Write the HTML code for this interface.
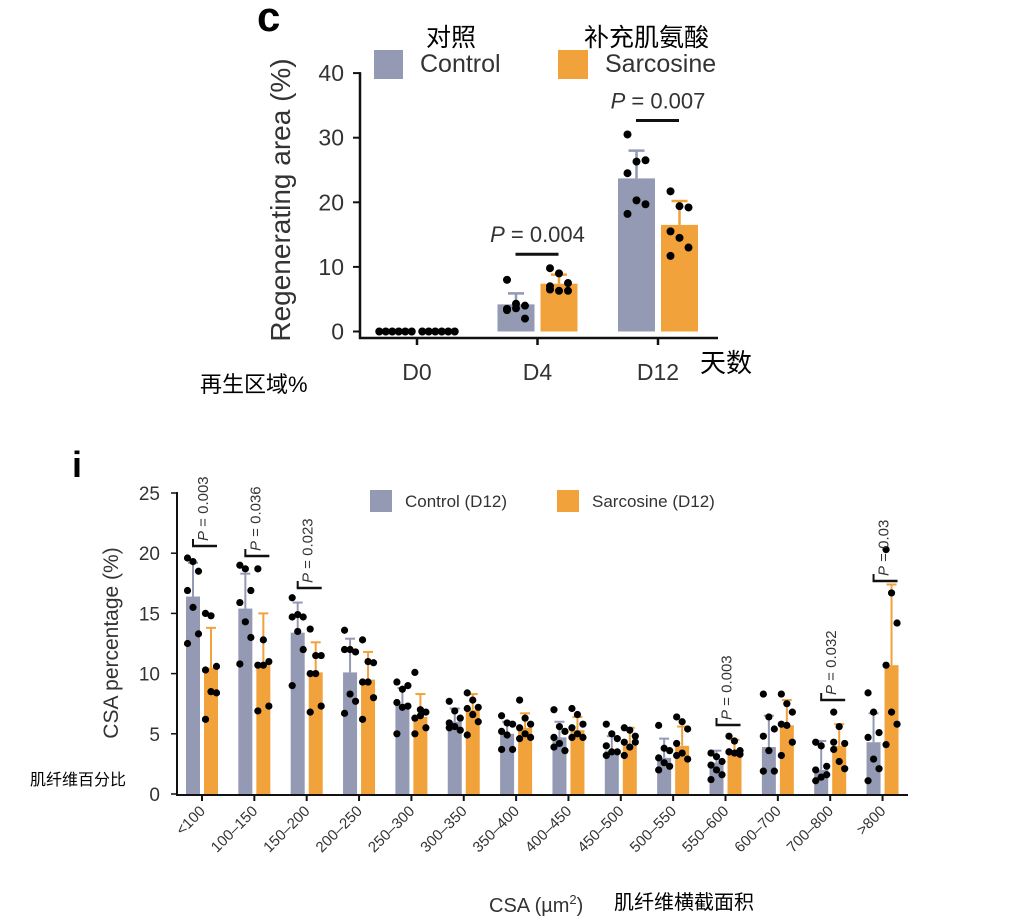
<!DOCTYPE html>
<html><head><meta charset="utf-8">
<style>
body{margin:0;background:#fff;}
svg{display:block;font-family:"Liberation Sans","Noto Sans CJK SC",sans-serif;}
</style></head>
<body>
<svg id="svg" width="1017" height="922" viewBox="0 0 1017 922">
<text x="257" y="31" font-size="42" font-weight="bold">c</text>
<text x="72" y="477" font-size="36" font-weight="bold">i</text>
<g id="top"></g>
<g id="bot"></g>
</svg>
<script>
const NS='http://www.w3.org/2000/svg';
const GRAY='#9499b4', ORANGE='#f2a23a';
function mk(tag,attrs,parent,txt){const e=document.createElementNS(NS,tag);for(const k in attrs)e.setAttribute(k,attrs[k]);if(txt!==undefined)e.textContent=txt;parent.appendChild(e);return e;}

// ---------- Top chart data ----------
const topCats=['D0','D4','D12'];
const topCtrlMean=[0,4.2,23.7];
const topCtrlErr=[0,1.7,4.3];
const topSarcMean=[0,7.4,16.5];
const topSarcErr=[0,1.4,3.7];
const topCtrlDots=[[0,0,0,0,0,0],[8,4.3,4.0,3.5,3.6,2.0,3.3],[30.5,26.3,26.5,24.5,20.3,19.7,18.2]];
const topSarcDots=[[0,0,0,0,0,0],[9.8,9.0,7.5,6.5,6.3,6.3,7.0],[21.7,19.4,19.2,15.5,14.5,13.0,11.7]];
const topTicks=[0,10,20,30,40];
const topP=[null,'P = 0.004','P = 0.007'];

// ---------- Bottom chart data ----------
const botCats=['<100','100–150','150–200','200–250','250–300','300–350','350–400','400–450','450–500','500–550','550–600','600–700','700–800','>800'];
const botCtrlMean=[16.4,15.4,13.4,10.1,7.5,6.0,5.0,4.7,3.6,3.0,2.6,3.9,2.0,4.3];
const botCtrlErr=[2.8,2.9,2.5,2.8,1.3,1.1,1.0,1.3,1.2,1.6,1.0,2.6,2.4,2.4];
const botSarcMean=[10.5,10.8,10.1,9.5,6.4,7.0,5.5,5.3,4.0,4.0,3.6,5.7,4.0,10.7];
const botSarcErr=[3.3,4.2,2.5,2.3,1.9,1.3,1.2,1.1,1.5,1.6,0.9,2.1,1.8,6.7];
const botCtrlDots=[[19.6,19.3,18.5,16.9,15.5,13.3,12.5],[19.0,18.7,16.9,15.9,14.3,13.0,10.8],[16.3,14.9,14.7,14.7,13.5,12.0,9.0],[13.6,12.0,11.8,12.0,8.3,7.7,6.7],[9.3,8.7,9.0,7.6,7.2,7.3,5.0],[7.7,6.9,6.3,5.9,5.6,5.3,5.5],[6.5,5.9,5.8,5.2,4.9,3.7,3.7],[7.0,5.6,5.2,4.7,4.2,3.6,3.9],[5.8,5.0,4.6,4.0,3.5,3.5,3.2],[5.7,3.8,3.6,3.0,2.6,2.3,2.0],[3.4,3.1,2.7,2.4,2.0,1.6,1.2],[8.3,6.4,5.4,4.8,3.6,1.9,1.9],[4.3,4.0,2.3,2.0,1.4,1.6,1.1],[8.4,6.8,5.1,4.7,2.9,2.1,1.1]];
const botSarcDots=[[15.0,14.8,10.6,10.3,8.5,8.4,6.2],[18.7,12.8,11.0,10.7,10.7,7.3,6.9],[13.7,11.5,11.5,10.0,10.0,7.3,6.8],[12.8,11.0,10.9,9.3,9.3,8.0,6.2],[10.1,7.0,6.8,6.3,6.5,5.5,5.0],[8.4,7.8,7.2,7.1,6.6,6.0,4.9],[7.8,6.3,5.8,5.5,5.0,4.7,4.6],[7.1,6.6,5.8,5.5,5.0,4.7,4.7],[5.5,5.3,4.8,4.3,3.9,4.3,3.2],[6.4,6.0,5.4,4.2,3.4,2.9,3.2],[4.8,4.4,3.6,3.5,3.4,3.3,3.5],[8.3,7.5,6.8,5.8,5.7,4.3,3.2],[6.8,5.6,4.2,3.7,2.7,2.1,4.3],[20.3,16.7,14.2,10.7,6.8,5.8,4.1]];
const botTicks=[0,5,10,15,20,25];
const botP=['P = 0.003','P = 0.036','P = 0.023',null,null,null,null,null,null,null,'P = 0.003',null,'P = 0.032','P = 0.03'];
const botPBar=[546,556,588,0,0,0,0,0,0,0,725,0,700,581];

// ---------- draw top ----------
(function(){
  const g=document.getElementById('top');
  const y=v=>331.5-v*6.46;
  const xc=i=>417+i*120.5;
  const bw=37, gap=6;
  const ya=mk('line',{x1:360,y1:y(40)-1,x2:360,y2:339,stroke:'#111','stroke-width':2.5},g);
  
  const xa=mk('line',{x1:359,y1:338,x2:718,y2:338,stroke:'#111','stroke-width':2.5},g);
  
  topTicks.forEach(t=>{
    const l=mk('line',{x1:353,y1:y(t),x2:360,y2:y(t),stroke:'#111','stroke-width':2},g);
    
    const tx=mk('text',{x:344,y:y(t)+8,'font-size':23,'text-anchor':'end',fill:'#333'},g,String(t));
    
  });
  topCats.forEach((c,i)=>{
    const cx=xc(i);
    const tk=mk('line',{x1:cx,y1:338,x2:cx,y2:345,stroke:'#111','stroke-width':2.5},g);
    
    const lb=mk('text',{x:cx,y:380,'font-size':23,'text-anchor':'middle',fill:'#333'},g,c);
    
    [[topCtrlMean,topCtrlErr,topCtrlDots,GRAY,cx-gap/2-bw],[topSarcMean,topSarcErr,topSarcDots,ORANGE,cx+gap/2]].forEach(([m,e,d,col,x0],k)=>{
      if(m[i]>0){
        const b=mk('rect',{x:x0,y:y(m[i]),width:bw,height:y(0)-y(m[i]),fill:col},g);
        
        
        const mx=x0+bw/2;
        mk('line',{x1:mx,y1:y(m[i]),x2:mx,y2:y(m[i]+e[i]),stroke:col,'stroke-width':2.5},g);
        mk('line',{x1:mx-8,y1:y(m[i]+e[i]),x2:mx+8,y2:y(m[i]+e[i]),stroke:col,'stroke-width':2.5},g);
      }
      const n=d[i].length;
      d[i].forEach((v,j)=>{
        const off = m[i]===0 ? (j-(n-1)/2)*6.5 : ((j%3)-1)*9;
        const dot=mk('circle',{cx:x0+bw/2+off,cy:y(v),r:4,fill:'#000'},g);
        
      });
    });
    if(topP[i]){
      const top=Math.max(topCtrlDots[i].reduce((a,b)=>Math.max(a,b)),topSarcDots[i].reduce((a,b)=>Math.max(a,b)));
      const by=y(top)-14;
      const br=mk('line',{x1:cx-22,y1:by,x2:cx+21,y2:by,stroke:'#111','stroke-width':3},g);
      
      const pt=mk('text',{x:cx,y:by-12,'font-size':22,'text-anchor':'middle',fill:'#333'},g);
      
      mk('tspan',{'font-style':'italic'},pt,'P');
      mk('tspan',{},pt,topP[i].slice(1));
    }
  });
  const yt=mk('text',{transform:'translate(290,200) rotate(-90)','font-size':28,'text-anchor':'middle',fill:'#333'},g,'Regenerating area (%)');
  
  const l1=mk('rect',{x:374,y:50,width:29,height:29,fill:GRAY},g);
  
  const l1t=mk('text',{x:420,y:72,'font-size':25,fill:'#333'},g,'Control');
  
  const l2=mk('rect',{x:558,y:50,width:30,height:29,fill:ORANGE},g);
  
  const l2t=mk('text',{x:605,y:72,'font-size':25,fill:'#333'},g,'Sarcosine');
  
  const c1=mk('text',{x:426,y:46,'font-size':25,fill:'#000'},g,'对照');
  
  const c2=mk('text',{x:584,y:46,'font-size':25,fill:'#000'},g,'补充肌氨酸');
  
  const c3=mk('text',{x:700,y:372,'font-size':26,fill:'#000'},g,'天数');
  
  const c4=mk('text',{x:200,y:392,'font-size':22,fill:'#000'},g,'再生区域%');
  
})();

// ---------- draw bottom ----------
(function(){
  const g=document.getElementById('bot');
  const y=v=>794-v*12.04;
  const xc=i=>202+i*52.35;
  const bw=14, gap=4;
  const ya=mk('line',{x1:177,y1:y(25)-1,x2:177,y2:795,stroke:'#111','stroke-width':2},g);
  
  const xa=mk('line',{x1:176,y1:795,x2:908,y2:795,stroke:'#111','stroke-width':2},g);
  
  botTicks.forEach(t=>{
    const l=mk('line',{x1:171,y1:y(t),x2:177,y2:y(t),stroke:'#111','stroke-width':1.5},g);
    
    const tx=mk('text',{x:160,y:y(t)+7,'font-size':19,'text-anchor':'end',fill:'#333'},g,String(t));
    
  });
  botCats.forEach((c,i)=>{
    const cx=xc(i);
    const tk=mk('line',{x1:cx,y1:795,x2:cx,y2:801,stroke:'#111','stroke-width':2},g);
    
    const lb=mk('text',{transform:`translate(${cx+4},${812}) rotate(-45)`,'font-size':15,'text-anchor':'end',fill:'#333'},g,c);
    
    [[botCtrlMean,botCtrlErr,botCtrlDots,GRAY,cx-gap/2-bw],[botSarcMean,botSarcErr,botSarcDots,ORANGE,cx+gap/2]].forEach(([m,e,d,col,x0],k)=>{
      const b=mk('rect',{x:x0,y:y(m[i]),width:bw,height:y(0)-y(m[i]),fill:col},g);
      
      
      const mx=x0+bw/2;
      mk('line',{x1:mx,y1:y(m[i]),x2:mx,y2:y(m[i]+e[i]),stroke:col,'stroke-width':2},g);
      mk('line',{x1:mx-5,y1:y(m[i]+e[i]),x2:mx+5,y2:y(m[i]+e[i]),stroke:col,'stroke-width':2},g);
      d[i].forEach((v,j)=>{
        const off=((j%3)-1)*5.5;
        const dot=mk('circle',{cx:mx+off,cy:y(v),r:3.6,fill:'#000'},g);
        
      });
    });
    if(botP[i]){
      const by=botPBar[i];
      const br=mk('line',{x1:cx-10,y1:by,x2:cx+15,y2:by,stroke:'#111','stroke-width':2.5},g);
      
      const vt=mk('line',{x1:cx-9,y1:by-7,x2:cx-9,y2:by,stroke:'#111','stroke-width':2},g);
      
      const pt=mk('text',{transform:`translate(${cx+6},${by-5}) rotate(-90)`,'font-size':15,fill:'#333'},g);
      
      mk('tspan',{'font-style':'italic'},pt,'P');
      mk('tspan',{},pt,botP[i].slice(1));
    }
  });
  const yt=mk('text',{transform:'translate(118,643) rotate(-90)','font-size':21,'text-anchor':'middle',fill:'#333'},g,'CSA percentage (%)');
  
  const xt=mk('text',{x:489,y:912,'font-size':20,fill:'#333'},g);
  
  mk('tspan',{},xt,'CSA (µm');
  mk('tspan',{'font-size':13,dy:-8},xt,'2');
  mk('tspan',{dy:8},xt,')');
  const c1=mk('text',{x:614,y:909,'font-size':20,fill:'#000'},g,'肌纤维横截面积');
  
  const c2=mk('text',{x:30,y:785,'font-size':16,fill:'#000'},g,'肌纤维百分比');
  
  const l1=mk('rect',{x:370,y:490,width:22,height:22,fill:GRAY},g);
  
  const l1t=mk('text',{x:405,y:507,'font-size':17,fill:'#333'},g,'Control (D12)');
  
  const l2=mk('rect',{x:557,y:490,width:22,height:22,fill:ORANGE},g);
  
  const l2t=mk('text',{x:592,y:507,'font-size':17,fill:'#333'},g,'Sarcosine (D12)');
  
})();
</script>
</body></html>
